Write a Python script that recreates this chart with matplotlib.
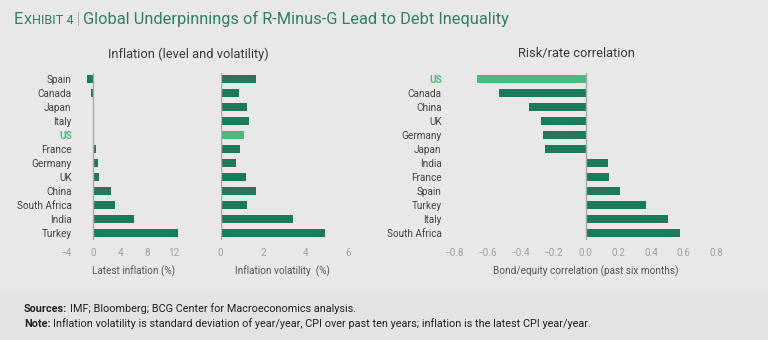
import matplotlib
matplotlib.use('Agg')
import matplotlib.pyplot as plt
from matplotlib.patches import Rectangle

plt.rcParams['font.family'] = ['Roboto', 'DejaVu Sans']

# inflation panels (top to bottom)
infl_countries = ['Spain', 'Canada', 'Japan', 'Italy', 'US', 'France', 'Germany', 'UK',
                  'China', 'South Africa', 'India', 'Turkey']
latest_inflation = [-1.0, -0.4, 0.0, 0.1, 0.1, 0.4, 0.65, 0.8, 2.7, 3.2, 6.0, 12.6]
infl_volatility = [1.66, 0.88, 1.27, 1.35, 1.1, 0.91, 0.75, 1.22, 1.66, 1.27, 3.43, 4.93]

# correlation panel (top to bottom)
corr_countries = ['US', 'Canada', 'China', 'UK', 'Germany', 'Japan', 'India', 'France',
                  'Spain', 'Turkey', 'Italy', 'South Africa']
bond_equity_corr = [-0.66, -0.53, -0.345, -0.27, -0.26, -0.25, 0.14, 0.145, 0.21, 0.37, 0.50, 0.575]

DARK = '#1d7a58'
LIGHT = '#4fb87f'
BG = '#e8e8e9'
TICK = '#a0a0a0'
LAB = '#555555'

fig = plt.figure(figsize=(7.68, 3.40), dpi=100)
fig.patch.set_facecolor(BG)
fig.patches.append(Rectangle((0, 0), 1, 48 / 340, transform=fig.transFigure,
                             facecolor='#e3e3e4', edgecolor='none', zorder=0))

W, H = 768.0, 340.0
def add_ax(x0, x1):
    return fig.add_axes([x0 / W, 1 - 240 / H, (x1 - x0) / W, 167 / H])

ax1 = add_ax(62.9, 181.0)
ax2 = add_ax(220.5, 352.0)
ax3 = add_ax(446.1, 724.9)

def style(ax, labels=None, pad=3):
    ax.set_facecolor('none')
    for s in ax.spines.values():
        s.set_visible(False)
    ax.axvline(0, color='#a8a8a8', lw=1.0, zorder=3)
    ax.set_ylim(11.52, -0.45)
    ax.tick_params(axis='x', length=0, pad=6, labelsize=7.2, labelcolor=TICK)
    if labels is None:
        ax.set_yticks([])
    else:
        ax.set_yticks(range(len(labels)))
        ax.set_yticklabels(labels)
        ax.tick_params(axis='y', length=0, pad=pad, labelsize=7.2, labelcolor='#444444')
        for t in ax.get_yticklabels():
            if t.get_text() == 'US':
                t.set_color(LIGHT)
                t.set_fontweight('bold')

c1 = [LIGHT if c == 'US' else DARK for c in infl_countries]
c3 = [LIGHT if c == 'US' else DARK for c in corr_countries]

ax1.barh(range(len(infl_countries)), latest_inflation, height=0.55, color=c1, zorder=2)
ax1.set_xlim(-4.5, 13)
ax1.set_xticks([-4, 0, 4, 8, 12])
ax1.set_xticklabels(['\u22124', '0', '4', '8', '12'])
style(ax1, infl_countries, pad=-6.3)
ax1.set_xlabel('Latest inflation (%)', fontsize=7.2, color=LAB)
ax1.xaxis.set_label_coords(0.602, -0.15)

ax2.barh(range(len(infl_countries)), infl_volatility, height=0.55, color=c1, zorder=2)
ax2.set_xlim(0, 6.2)
ax2.set_xticks([0, 2, 4, 6])
style(ax2)
ax2.set_xlabel('Inflation volatility  (%)', fontsize=7.2, color=LAB)
ax2.xaxis.set_label_coords(0.47, -0.15)

ax3.barh(range(len(corr_countries)), bond_equity_corr, height=0.55, color=c3, zorder=2)
ax3.set_xlim(-0.85, 0.85)
ticks3 = [-0.8, -0.6, -0.4, -0.2, 0.0, 0.2, 0.4, 0.6, 0.8]
ax3.set_xticks(ticks3)
ax3.set_xticklabels([('\u2212' if v < 0 else '') + '%.1f' % abs(v) for v in ticks3])
style(ax3, corr_countries, pad=3.2)
ax3.set_xlabel('Bond/equity correlation (past six months)', fontsize=7.2, color=LAB)
ax3.xaxis.set_label_coords(0.5, -0.15)

# section titles
fig.text(188 / W, 1 - 54 / H, 'Inflation (level and volatility)', ha='center', va='center',
         fontsize=9.3, color='#3a3a3a')
fig.text(576 / W, 1 - 54 / H, 'Risk/rate correlation', ha='center', va='center',
         fontsize=9.3, color='#3a3a3a')

# main title with small caps "Exhibit"
GREEN = '#2f8060'
ty = 1 - 24 / H
r = fig.canvas.get_renderer()
t0 = fig.text(14 / W, ty, 'E', fontsize=11.8, color=GREEN, va='baseline')
bb = t0.get_window_extent(r)
t1 = fig.text((bb.x1 + 0.5) / W, ty, 'XHIBIT 4', fontsize=9.2, color=GREEN, va='baseline')
bb = t1.get_window_extent(r)
t2 = fig.text((bb.x1 + 3) / W, ty, '|', fontsize=11.8, color=GREEN, va='baseline',
              fontweight='light')
bb = t2.get_window_extent(r)
fig.text((bb.x1 + 3) / W, ty, 'Global Underpinnings of R-Minus-G Lead to Debt Inequality',
         fontsize=11.8, color=GREEN, va='baseline')

# footer
fy1, fy2 = 1 - 312 / H, 1 - 327 / H
s = fig.text(24 / W, fy1, 'Sources:', fontsize=7.8, fontweight='bold', color='#222222', va='baseline')
n = fig.text(24 / W, fy2, 'Note:', fontsize=7.8, fontweight='bold', color='#222222', va='baseline')
fig.text((s.get_window_extent(r).x1 + 2.5) / W, fy1,
         'IMF; Bloomberg; BCG Center for Macroeconomics analysis.',
         fontsize=7.8, color='#222222', va='baseline')
fig.text((n.get_window_extent(r).x1 + 2.5) / W, fy2,
         'Inflation volatility is standard deviation of year/year, CPI over past ten years; '
         'inflation is the latest CPI year/year.',
         fontsize=7.8, color='#222222', va='baseline')

fig.savefig('out.png', dpi=100, facecolor=BG)
